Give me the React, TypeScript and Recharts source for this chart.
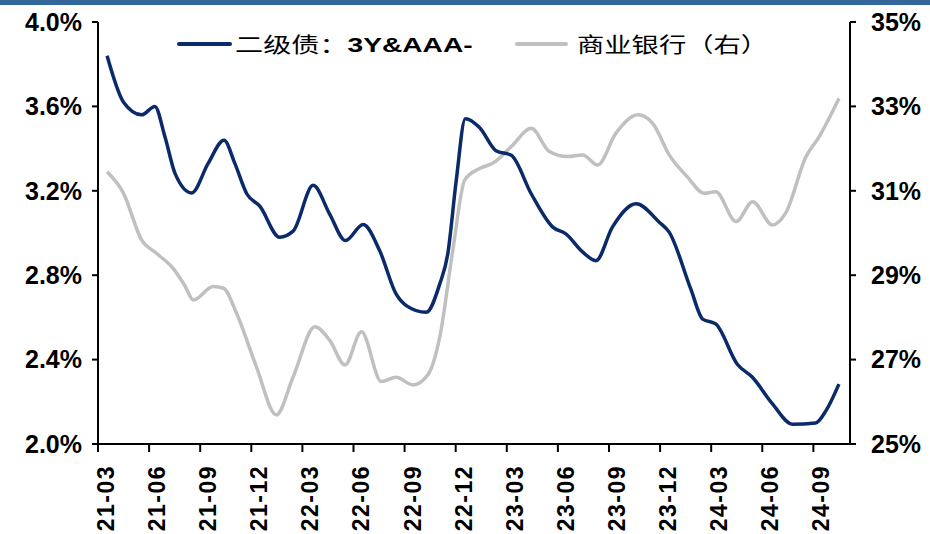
import React from "react"
import { LineChart, Line, XAxis, YAxis } from "recharts"

// 二级债 3Y&AAA- yield (%), left axis
const bondDates = [
    "21-03-17", "21-04-16", "21-05-18", "21-06-11", "21-06-29", "21-07-17", "21-08-16", "21-09-15",
    "21-10-13", "21-11-02", "21-11-23", "21-12-16", "22-01-21", "22-02-15", "22-03-20", "22-04-19",
    "22-05-17", "22-06-18", "22-07-17", "22-08-16", "22-09-04", "22-10-09", "22-11-03", "22-11-17",
    "22-12-02", "22-12-18", "23-01-13", "23-02-12", "23-03-09", "23-04-14", "23-05-22", "23-06-15",
    "23-07-15", "23-08-08", "23-09-07", "23-10-19", "23-11-30", "23-12-17", "24-01-25", "24-02-16",
    "24-03-09", "24-04-17", "24-05-14", "24-06-19", "24-07-24", "24-09-05", "24-09-23", "24-10-16",
]
const bondValues = [
    3.84, 3.62, 3.56, 3.6, 3.455, 3.28, 3.19, 3.33,
    3.44, 3.33, 3.186, 3.127, 2.98, 3.01, 3.226, 3.09,
    2.964, 3.04, 2.917, 2.711, 2.656, 2.624, 2.759, 2.9,
    3.25, 3.542, 3.5, 3.39, 3.368, 3.186, 3.028, 2.996,
    2.909, 2.869, 3.028, 3.139, 3.05, 3.004, 2.735, 2.592,
    2.569, 2.378, 2.315, 2.19, 2.094, 2.1, 2.157, 2.284,
]

// 商业银行（右） (%), right axis
const bankDates = [
    "21-03-17", "21-04-16", "21-05-18", "21-06-14", "21-07-14", "21-08-04", "21-08-19", "21-09-24",
    "21-10-12", "21-11-05", "21-12-10", "22-01-15", "22-02-15", "22-03-23", "22-04-19", "22-05-16",
    "22-06-15", "22-07-20", "22-08-16", "22-09-16", "22-10-12", "22-11-03", "22-11-26", "22-12-17",
    "23-01-13", "23-02-06", "23-03-09", "23-04-14", "23-05-16", "23-06-18", "23-07-15", "23-08-11",
    "23-09-13", "23-10-22", "23-11-18", "23-12-17", "24-01-19", "24-02-19", "24-03-09", "24-04-15",
    "24-05-14", "24-06-19", "24-07-12", "24-08-18", "24-09-11", "24-10-16",
]
const bankValues = [
    31.45, 30.94, 29.83, 29.52, 29.15, 28.75, 28.41, 28.73,
    28.69, 28.1, 26.83, 25.69, 26.6, 27.78, 27.46, 26.87,
    27.66, 26.48, 26.58, 26.4, 26.64, 27.54, 29.6, 31.26,
    31.53, 31.65, 32.05, 32.48, 31.93, 31.81, 31.85, 31.61,
    32.36, 32.8, 32.6, 31.85, 31.33, 30.94, 30.98, 30.27,
    30.74, 30.19, 30.47, 31.81, 32.28, 33.19,
]

const tickLabels = [
    "21-03", "21-06", "21-09", "21-12", "22-03", "22-06", "22-09", "22-12",
    "23-03", "23-06", "23-09", "23-12", "24-03", "24-06", "24-09",
]
const leftTicks = [2.0, 2.4, 2.8, 3.2, 3.6, 4.0]
const rightTicks = [25, 27, 29, 31, 33, 35]

const BLUE = "#0b2a6a"
const GREY = "#c0c0c0"
const FONT = "'Liberation Sans', Arial, sans-serif"
const CJK = "'Noto Sans CJK SC', sans-serif"

// months since 2021-03-01
const toX = (d: string) => {
    const [y, m, day] = d.split("-").map(Number)
    return (y - 21) * 12 + (m - 3) + (day - 1) / 30
}
const labelToX = (d: string) => toX(d + "-01")

const bondData = bondDates.map((d, i) => ({ x: toX(d), v: bondValues[i] }))
const bankData = bankDates.map((d, i) => ({ x: toX(d), v: bankValues[i] }))
const xTicks = tickLabels.map(labelToX)

const XTick = (props: any) => {
    const { x, y, payload } = props
    const i = xTicks.findIndex((t) => Math.abs(t - payload.value) < 0.01)
    return (
        <text
            x={0}
            y={0}
            transform={`translate(${x + 16},${y + 11}) rotate(-90)`}
            textAnchor="end"
            fontFamily={FONT}
            fontWeight="bold"
            fontSize={23}
            letterSpacing={1.5}
            fill="#000"
        >
            {tickLabels[i] ?? ""}
        </text>
    )
}

export default function App() {
    return (
        <div style={{ position: "absolute", left: 0, top: 0, width: 930, height: 534, background: "#fff" }}>
            <div style={{ position: "absolute", left: 0, top: 0, width: 930, height: 5, background: "#336699" }} />
            <LineChart width={930} height={534} margin={{ top: 22, right: 0, bottom: 0, left: 0 }}>
                <XAxis
                    dataKey="x"
                    type="number"
                    domain={[0, 44.15]}
                    ticks={xTicks}
                    interval={0}
                    allowDataOverflow
                    height={90}
                    tick={<XTick />}
                    tickSize={8}
                    axisLine={{ stroke: "#000", strokeWidth: 2 }}
                    tickLine={{ stroke: "#000", strokeWidth: 2 }}
                />
                <YAxis
                    yAxisId="left"
                    domain={[2, 4]}
                    ticks={leftTicks}
                    interval={0}
                    width={98}
                    tickSize={6}
                    tickFormatter={(v: number) => `${v.toFixed(1)}%`}
                    tick={{ fill: "#000", fontSize: 25, fontWeight: "bold", fontFamily: FONT, dx: -8 }}
                    axisLine={{ stroke: "#000", strokeWidth: 2 }}
                    tickLine={{ stroke: "#000", strokeWidth: 2 }}
                />
                <YAxis
                    yAxisId="right"
                    orientation="right"
                    domain={[25, 35]}
                    ticks={rightTicks}
                    interval={0}
                    width={80}
                    tickSize={6}
                    tickFormatter={(v: number) => `${v}%`}
                    tick={{ fill: "#000", fontSize: 25, fontWeight: "bold", fontFamily: FONT, dx: 13 }}
                    axisLine={{ stroke: "#000", strokeWidth: 2 }}
                    tickLine={{ stroke: "#000", strokeWidth: 2 }}
                />
                <Line
                    yAxisId="right"
                    data={bankData}
                    dataKey="v"
                    name="商业银行（右）"
                    type="monotone"
                    stroke={GREY}
                    strokeWidth={3.5}
                    dot={false}
                    isAnimationActive={false}
                />
                <Line
                    yAxisId="left"
                    data={bondData}
                    dataKey="v"
                    name="二级债：3Y&AAA-"
                    type="monotone"
                    stroke={BLUE}
                    strokeWidth={3.5}
                    dot={false}
                    isAnimationActive={false}
                />
            </LineChart>
            {/* legend */}
            <div style={{ position: "absolute", left: 177, top: 42, width: 55, height: 4, background: BLUE, borderRadius: 2 }} />
            <div style={{ position: "absolute", left: 235, top: 29, height: 28, lineHeight: "28px", whiteSpace: "nowrap", transform: "scaleX(1.34)", transformOrigin: "left center" }}>
                <span style={{ fontFamily: CJK, fontSize: 21 }}>二级债：</span>
                <span style={{ fontFamily: FONT, fontSize: 21, fontWeight: "bold" }}>3Y&amp;AAA-</span>
            </div>
            <div style={{ position: "absolute", left: 515, top: 42, width: 53, height: 4, background: GREY, borderRadius: 2 }} />
            <div style={{ position: "absolute", left: 577, top: 29, height: 28, lineHeight: "28px", whiteSpace: "nowrap", fontFamily: CJK, fontSize: 21, transform: "scaleX(1.3)", transformOrigin: "left center" }}>
                商业银行（右）
            </div>
        </div>
    )
}
